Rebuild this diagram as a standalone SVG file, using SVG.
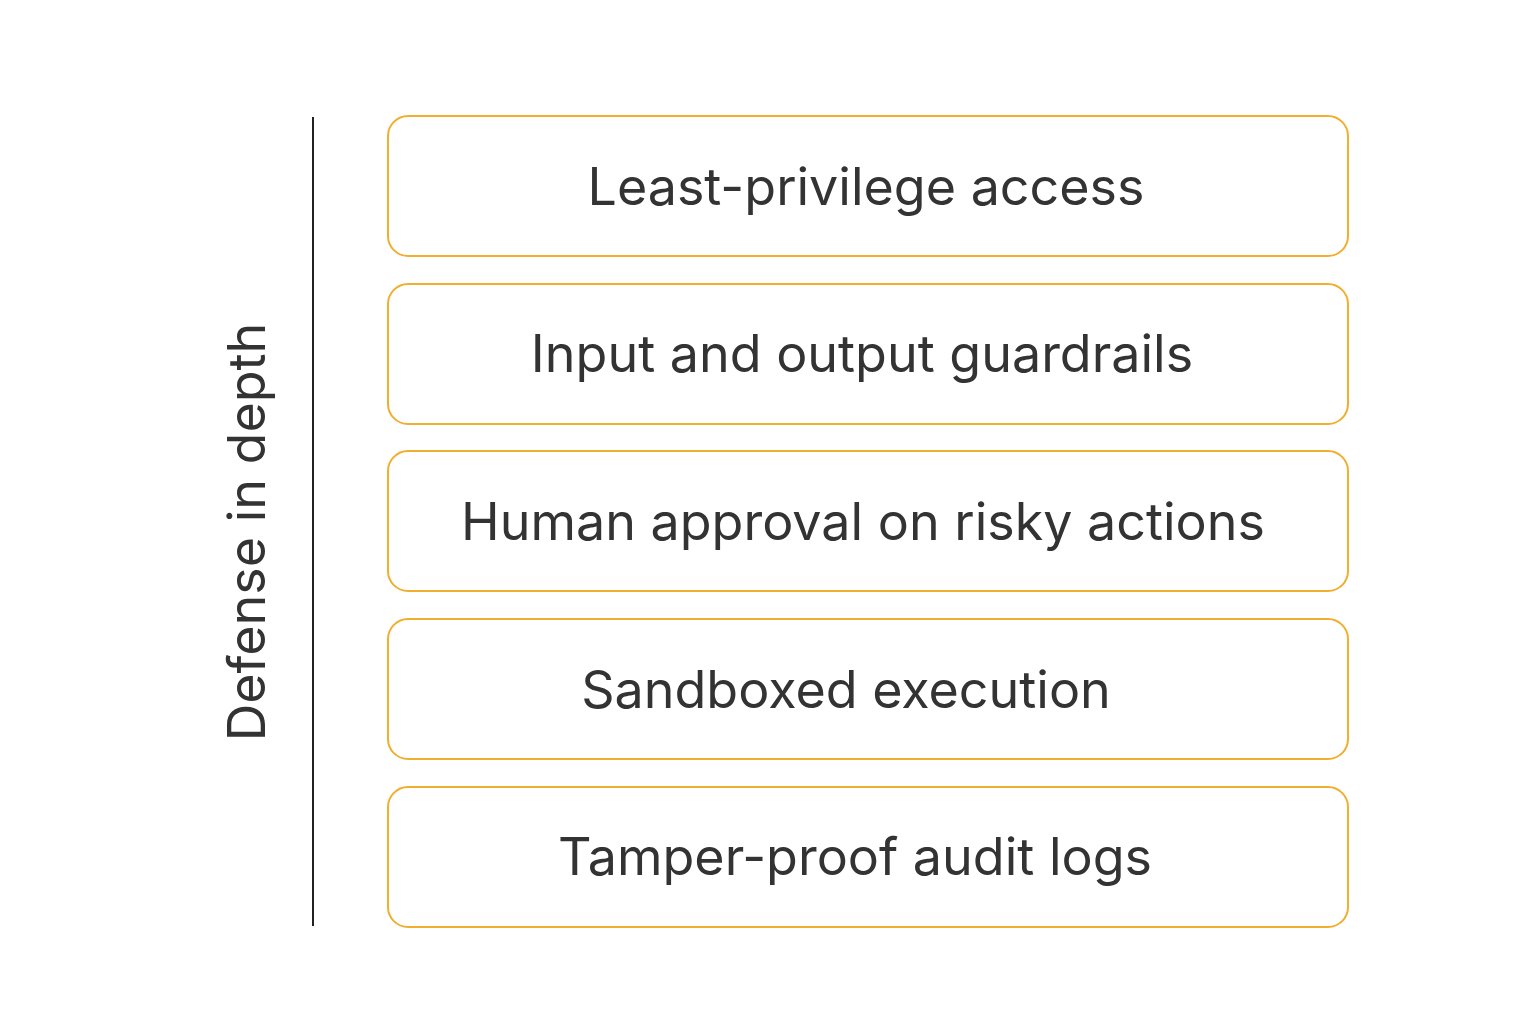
<svg xmlns="http://www.w3.org/2000/svg" width="1536" height="1024" viewBox="0 0 1536 1024">
<style>
.box{fill:#fff;stroke:#F2AE2E;stroke-width:2}
.t{font-family:Inter,"Noto Sans",sans-serif;font-size:52px;fill:#333;text-anchor:middle;dominant-baseline:central}
</style>
<rect width="1536" height="1024" fill="#fff"/>
<g id="connectors"><line x1="313" y1="117" x2="313" y2="926" stroke="#222" stroke-width="2"/></g>
<text class="t" transform="translate(246,532) rotate(-90)">Defense in depth</text>
<g id="n1"><rect class="box" x="388" y="116" width="960" height="140" rx="20"/><text class="t" x="866" y="186">Least-privilege access</text></g>
<g id="n2"><rect class="box" x="388" y="284" width="960" height="140" rx="20"/><text class="t" x="862" y="353">Input and output guardrails</text></g>
<g id="n3"><rect class="box" x="388" y="451" width="960" height="140" rx="20"/><text class="t" x="863" y="521">Human approval on risky actions</text></g>
<g id="n4"><rect class="box" x="388" y="619" width="960" height="140" rx="20"/><text class="t" x="846" y="689">Sandboxed execution</text></g>
<g id="n5"><rect class="box" x="388" y="787" width="960" height="140" rx="20"/><text class="t" x="855" y="856">Tamper-proof audit logs</text></g>
</svg>
